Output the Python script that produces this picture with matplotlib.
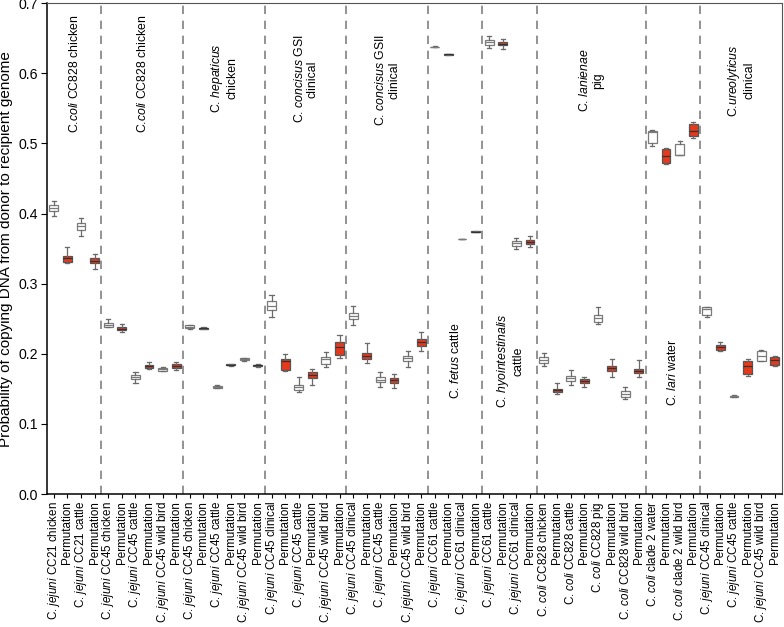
import matplotlib
matplotlib.use("Agg")
import matplotlib.pyplot as plt

plt.rcParams['font.family'] = ['Liberation Sans', 'DejaVu Sans']
plt.rcParams['mathtext.fontset'] = 'custom'
plt.rcParams['mathtext.rm'] = 'Liberation Sans'
plt.rcParams['mathtext.it'] = 'Liberation Sans:italic'

J = r"C. $\it{jejuni}$ "
K = r"C. $\it{coli}$ "
P = "Permutation"

# x categories (donor population / permutation)
labels = [
    J + "CC21 chicken", P, J + "CC21 cattle", P,
    J + "CC45 chicken", P, J + "CC45 cattle", P, J + "CC45 wild bird", P,
    J + "CC45 chicken", P, J + "CC45 cattle", P, J + "CC45 wild bird", P,
    J + "CC45 clinical", P, J + "CC45 cattle", P, J + "CC45 wild bird", P,
    J + "CC45 clinical", P, J + "CC45 cattle", P, J + "CC45 wild bird", P,
    J + "CC61 cattle", P, J + "CC61 clinical", P,
    J + "CC61 cattle", P, J + "CC61 clinical", P,
    K + "CC828 chicken", P, K + "CC828 cattle", P, K + "CC828 pig", P, K + "CC828 wild bird", P,
    K + "clade 2 water", P, K + "clade 2 wild bird", P,
    J + "CC45 clinical", P, J + "CC45 cattle", P, J + "CC45 wild bird", P,
]

# box statistics
med = [0.408, 0.336, 0.382, 0.333,
       0.241, 0.236, 0.167, 0.182, 0.178, 0.1826,
       0.2387, 0.2365, 0.1525, 0.184, 0.1925, 0.1835,
       0.268, 0.190, 0.153, 0.170, 0.192, 0.209,
       0.2535, 0.197, 0.163, 0.162, 0.1935, 0.2165,
       0.6375, 0.627, 0.3638, 0.374,
       0.644, 0.642, 0.3576, 0.3595,
       0.191, 0.148, 0.165, 0.161, 0.2506, 0.180, 0.142, 0.1755,
       0.5165, 0.482, 0.484, 0.518,
       0.2635, 0.209, 0.1395, 0.183, 0.197, 0.191]
q1 = [0.404, 0.331, 0.377, 0.330,
      0.2387, 0.234, 0.1636, 0.180, 0.176, 0.180,
      0.2365, 0.2355, 0.1515, 0.1835, 0.191, 0.182,
      0.262, 0.177, 0.148, 0.166, 0.1855, 0.198,
      0.249, 0.192, 0.160, 0.159, 0.190, 0.2116,
      0.6370, 0.6265, 0.3634, 0.3735,
      0.641, 0.640, 0.3542, 0.357,
      0.187, 0.145, 0.161, 0.158, 0.2458, 0.176, 0.138, 0.172,
      0.501, 0.4726, 0.483, 0.510,
      0.2553, 0.205, 0.1385, 0.171, 0.190, 0.184]
q3 = [0.412, 0.3395, 0.386, 0.336,
      0.2435, 0.238, 0.170, 0.184, 0.180, 0.185,
      0.2405, 0.2375, 0.154, 0.1848, 0.1935, 0.1845,
      0.275, 0.193, 0.156, 0.1736, 0.196, 0.2175,
      0.2578, 0.201, 0.1665, 0.165, 0.197, 0.2207,
      0.6380, 0.6275, 0.3642, 0.3745,
      0.647, 0.644, 0.3604, 0.362,
      0.195, 0.150, 0.1683, 0.1636, 0.2553, 0.1826, 0.147, 0.178,
      0.518, 0.492, 0.499, 0.527,
      0.2664, 0.213, 0.1405, 0.190, 0.204, 0.195]
lo = [0.397, 0.329, 0.368, 0.321,
      0.238, 0.2315, 0.159, 0.178, 0.175, 0.1765,
      0.2358, 0.235, 0.151, 0.183, 0.190, 0.1815,
      0.252, 0.176, 0.146, 0.155, 0.1815, 0.1935,
      0.2407, 0.1864, 0.153, 0.151, 0.1815, 0.2045,
      0.6368, 0.6262, 0.3632, 0.3732,
      0.636, 0.6348, 0.349, 0.3524,
      0.1826, 0.143, 0.155, 0.152, 0.2425, 0.1665, 0.135, 0.1673,
      0.497, 0.471, 0.483, 0.507,
      0.2525, 0.2045, 0.138, 0.169, 0.1895, 0.183]
hi = [0.418, 0.353, 0.393, 0.342,
      0.249, 0.242, 0.1736, 0.188, 0.1816, 0.189,
      0.2415, 0.238, 0.155, 0.186, 0.194, 0.185,
      0.2835, 0.1995, 0.167, 0.178, 0.203, 0.227,
      0.268, 0.2154, 0.1736, 0.171, 0.204, 0.2307,
      0.6382, 0.6278, 0.3644, 0.3748,
      0.653, 0.6486, 0.3647, 0.3676,
      0.2007, 0.158, 0.177, 0.167, 0.2663, 0.192, 0.153, 0.191,
      0.519, 0.4936, 0.5036, 0.530,
      0.267, 0.2164, 0.141, 0.192, 0.205, 0.197]

# recipient species groups
group_sizes = [4, 6, 6, 6, 6, 4, 4, 8, 4, 6]
group_names = [
    r"C.$\it{coli}$ CC828 chicken",
    r"C.$\it{coli}$ CC828 chicken",
    "C. $\\it{hepaticus}$\nchicken",
    "C. $\\it{concisus}$ GSI\nclinical",
    "C. $\\it{concisus}$ GSII\nclinical",
    r"C. $\it{fetus}$ cattle",
    "C. $\\it{hyointestinalis}$\ncattle",
    "C. $\\it{lanienae}$\npig",
    r"C. $\it{lari}$ water",
    "C.$\\it{ureolyticus}$\nclinical",
]
group_label_y = [0.599, 0.599, 0.593, 0.592, 0.59, 0.19, 0.19, 0.59, 0.174, 0.59]

fig = plt.figure(figsize=(7.84, 6.27), dpi=100)
ax = fig.add_axes([0.060, 0.212, 0.937, 0.783])

red = '#e5391b'
stats = []
for i in range(len(labels)):
    stats.append(dict(med=med[i], q1=q1[i], q3=q3[i], whislo=lo[i], whishi=hi[i], fliers=[]))

for i, s in enumerate(stats):
    perm = labels[i] == P
    ax.bxp([s], positions=[i], widths=0.65, patch_artist=True, showfliers=False,
           boxprops=dict(facecolor=red if perm else 'white',
                         edgecolor='#555555' if perm else '#7a7a7a', linewidth=0.9),
           medianprops=dict(color='#333333' if perm else '#7a7a7a', linewidth=0.9),
           whiskerprops=dict(color='#6a6a6a', linewidth=0.9),
           capprops=dict(color='#6a6a6a', linewidth=0.9),
           capwidths=0.3, manage_ticks=False)

# dashed separators and group labels
start = 0
for n, name, gy in zip(group_sizes, group_names, group_label_y):
    end = start + n
    if end < len(labels):
        ax.axvline(end - 0.5, color='#808080', linestyle=(0, (5, 4)), linewidth=1.2)
    ax.text((start + end - 1) / 2, gy, name, rotation=90, ha='center', va='center',
            fontsize=8.8, multialignment='center', linespacing=1.1)
    start = end

ax.set_xlim(-0.5, len(labels) - 0.5)
ax.set_ylim(0, 0.7)
ax.set_yticks([0, 0.1, 0.2, 0.3, 0.4, 0.5, 0.6, 0.7])
ax.set_yticklabels(["0.0", "0.1", "0.2", "0.3", "0.4", "0.5", "0.6", "0.7"], fontsize=10.2)
ax.set_xticks(range(len(labels)))
ax.set_xticklabels(labels, rotation=90, fontsize=8.4)
ax.tick_params(axis='x', length=3, pad=2)
ax.tick_params(axis='y', length=4, pad=2.5)
ax.set_ylabel("Probability of copying DNA from donor to recipient genome", fontsize=11)
ax.yaxis.set_label_coords(-0.046, 0.5)

for side in ['top', 'right']:
    ax.spines[side].set_color('#555555')
for side in ['left', 'bottom']:
    ax.spines[side].set_linewidth(1.1)

fig.savefig('out.png', dpi=100)
